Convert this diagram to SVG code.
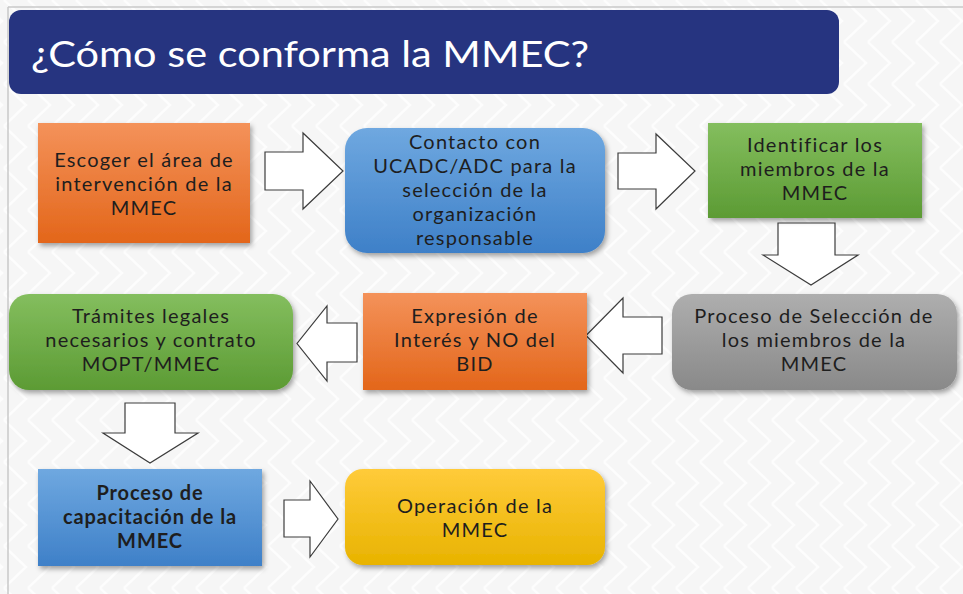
<svg xmlns="http://www.w3.org/2000/svg" width="963" height="594" viewBox="0 0 963 594">
<defs>
<pattern id="bgpat" width="48" height="42" patternUnits="userSpaceOnUse">
<rect width="48" height="42" fill="#F6F6F6"/>
<path d="M4,0 L26,21 L4,42 M28,0 L50,21 L28,42 M-20,0 L2,21 L-20,42" fill="none" stroke="#FDFDFD" stroke-width="2.5"/>
</pattern>
<linearGradient id="gOrange" x1="0" y1="0" x2="0" y2="1"><stop offset="0" stop-color="#F4925A"/><stop offset="1" stop-color="#E3661A"/></linearGradient>
<linearGradient id="gBlue" x1="0" y1="0" x2="0" y2="1"><stop offset="0" stop-color="#6FA8E0"/><stop offset="1" stop-color="#3E80C8"/></linearGradient>
<linearGradient id="gGreen" x1="0" y1="0" x2="0" y2="1"><stop offset="0" stop-color="#84BE5E"/><stop offset="1" stop-color="#5C9B34"/></linearGradient>
<linearGradient id="gGray" x1="0" y1="0" x2="0" y2="1"><stop offset="0" stop-color="#AEAEAE"/><stop offset="1" stop-color="#898989"/></linearGradient>
<linearGradient id="gYellow" x1="0" y1="0" x2="0" y2="1"><stop offset="0" stop-color="#FFCB3A"/><stop offset="1" stop-color="#E8B300"/></linearGradient>
<filter id="sh" x="-10%" y="-10%" width="125%" height="130%">
<feDropShadow dx="2" dy="3" stdDeviation="2.5" flood-color="#000" flood-opacity="0.35"/>
</filter>
</defs>
<style>
.t{font-family:Lato,"Liberation Sans",sans-serif;font-size:20px;letter-spacing:1.2px;fill:#1E1E1E;text-anchor:middle}
.b{font-weight:bold;letter-spacing:0.9px}
.arr{fill:#FFFFFF;stroke:#3C3C3C;stroke-width:1.2;stroke-linejoin:miter}
</style>
<rect width="963" height="594" fill="url(#bgpat)"/>
<line x1="8" y1="7" x2="963" y2="7" stroke="#C8C8C8" stroke-width="1.5"/>
<line x1="8" y1="7" x2="8" y2="594" stroke="#C8C8C8" stroke-width="1.5"/>
<g id="title">
<rect x="9" y="10" width="830" height="84" rx="12" fill="#263480"/>
<text x="31" y="67" font-family="Lato,'Liberation Sans',sans-serif" font-size="37" fill="#FFFFFF" textLength="558" lengthAdjust="spacingAndGlyphs">¿Cómo se conforma la MMEC?</text>
</g>
<g id="connectors">
<path class="arr" d="M265,152 H303 V133 L343,171 L303,209 V190 H265 Z"/>
<path class="arr" d="M618,153 H656 V134 L695,171 L656,209 V189 H618 Z"/>
<path class="arr" d="M778,223 H835 V255 H858 L811,285 L763,255 H778 Z"/>
<path class="arr" d="M662,317 H623 V298 L586,335.5 L623,373 V354 H662 Z"/>
<path class="arr" d="M357,323 H327 V306 L297,343.5 L327,381 V362 H357 Z"/>
<path class="arr" d="M125,403 H175 V433 H198 L150,463 L103,433 H125 Z"/>
<path class="arr" d="M284,500 H310 V481 L338,519 L310,557 V537 H284 Z"/>
</g>
<g id="n1">
<rect x="38" y="123" width="212" height="120" fill="url(#gOrange)" filter="url(#sh)"/>
<text class="t"><tspan x="144" y="167">Escoger el área de</tspan><tspan x="144" y="191">intervención de la</tspan><tspan x="144" y="215">MMEC</tspan></text>
</g>
<g id="n2">
<rect x="345" y="128" width="260" height="125" rx="22" fill="url(#gBlue)" filter="url(#sh)"/>
<text class="t"><tspan x="475" y="149">Contacto con</tspan><tspan x="475" y="173">UCADC/ADC para la</tspan><tspan x="475" y="197">selección de la</tspan><tspan x="475" y="221">organización</tspan><tspan x="475" y="245">responsable</tspan></text>
</g>
<g id="n3">
<rect x="708" y="123" width="214" height="95" fill="url(#gGreen)" filter="url(#sh)"/>
<text class="t"><tspan x="815" y="152">Identificar los</tspan><tspan x="815" y="176">miembros de la</tspan><tspan x="815" y="200">MMEC</tspan></text>
</g>
<g id="n4">
<rect x="672" y="294" width="285" height="96" rx="20" fill="url(#gGray)" filter="url(#sh)"/>
<text class="t"><tspan x="814" y="323">Proceso de Selección de</tspan><tspan x="814" y="347">los miembros de la</tspan><tspan x="814" y="371">MMEC</tspan></text>
</g>
<g id="n5">
<rect x="363" y="293" width="224" height="97" fill="url(#gOrange)" filter="url(#sh)"/>
<text class="t"><tspan x="475" y="323">Expresión de</tspan><tspan x="475" y="347">Interés y NO del</tspan><tspan x="475" y="371">BID</tspan></text>
</g>
<g id="n6">
<rect x="9" y="294" width="284" height="96" rx="20" fill="url(#gGreen)" filter="url(#sh)"/>
<text class="t"><tspan x="151" y="323">Trámites legales</tspan><tspan x="151" y="347">necesarios y contrato</tspan><tspan x="151" y="371">MOPT/MMEC</tspan></text>
</g>
<g id="n7">
<rect x="38" y="469" width="224" height="97" fill="url(#gBlue)" filter="url(#sh)"/>
<text class="t b"><tspan x="150" y="500">Proceso de</tspan><tspan x="150" y="524">capacitación de la</tspan><tspan x="150" y="548">MMEC</tspan></text>
</g>
<g id="n8">
<rect x="345" y="469" width="260" height="96" rx="18" fill="url(#gYellow)" filter="url(#sh)"/>
<text class="t"><tspan x="475" y="513">Operación de la</tspan><tspan x="475" y="537">MMEC</tspan></text>
</g>
</svg>
